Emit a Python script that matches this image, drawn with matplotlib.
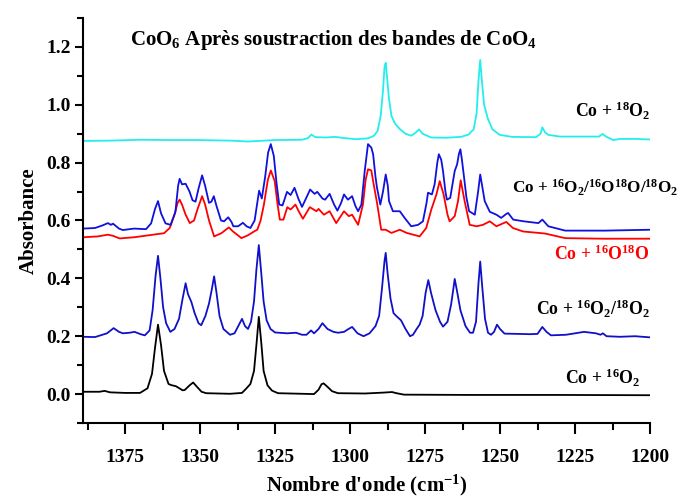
import matplotlib
matplotlib.use("Agg")
import matplotlib.pyplot as plt
from matplotlib.ticker import MultipleLocator

plt.rcParams["font.family"] = ["Liberation Serif", "DejaVu Serif"]
plt.rcParams["font.weight"] = "bold"
plt.rcParams["mathtext.fontset"] = "custom"
plt.rcParams["mathtext.rm"] = "Liberation Serif:bold"
plt.rcParams["mathtext.it"] = "Liberation Serif:bold"
plt.rcParams["mathtext.bf"] = "Liberation Serif:bold"

# Co + 16O2 (noir)
wn_16 = [1389, 1383.5, 1381.8, 1380, 1375, 1370, 1367.5, 1366, 1365, 1364, 1363, 1362,
         1360.5, 1359.6, 1358, 1355.8, 1355.1, 1353.5, 1352.3, 1351, 1349.5, 1347.9, 1340,
         1336, 1334.5, 1333.2, 1332, 1331.2, 1330.4, 1329.6, 1328.8, 1327.5, 1326, 1324,
         1312, 1310.5, 1309.5, 1308.8, 1307.5, 1306, 1304, 1295, 1289, 1286, 1284.5, 1282,
         1260, 1230, 1200]
abs_16 = [0.008, 0.008, 0.011, 0.006, 0.004, 0.004, 0.02, 0.07, 0.16, 0.24, 0.17, 0.08,
          0.035, 0.031, 0.027, 0.013, 0.014, 0.03, 0.04, 0.025, 0.008, 0.003, 0.001,
          0.004, 0.02, 0.035, 0.08, 0.17, 0.267, 0.18, 0.08, 0.03, 0.012, 0.003,
          0.0, 0.015, 0.034, 0.037, 0.025, 0.01, 0.003, 0.002, 0.005, 0.007, 0.003, -0.002,
          -0.003, -0.003, -0.004]

# Co + 16O2/18O2 (bleu, bas)
wn_1618 = [1389, 1385, 1381, 1378.8, 1377, 1375.7, 1373.5, 1371.8, 1369.8, 1368.4, 1366.8,
           1365.8, 1364.8, 1364, 1363.2, 1362.3, 1361.3, 1359.9, 1358.5, 1357, 1355.8, 1354.8,
           1354, 1352.9, 1351.8, 1350.5, 1349.6, 1348.2, 1347, 1346.1, 1345.3, 1344.5, 1343.5,
           1342.2, 1340, 1338.5, 1337, 1336, 1335, 1334, 1333, 1332, 1331.2, 1330.4, 1329.6,
           1328.8, 1327.8, 1326.5, 1325, 1321, 1318, 1316, 1314.5, 1313, 1312, 1310.5, 1309.2,
           1307.5, 1305.5, 1304, 1302, 1300.5, 1299.3, 1297.5, 1295.5, 1293.5, 1291.5, 1290.3,
           1289.3, 1288.5, 1288.1, 1287.5, 1286.5, 1285.5, 1284.6, 1283, 1281.5, 1280, 1279,
           1277.8, 1276.8, 1275.8, 1274.8, 1273.9, 1273, 1271.5, 1270, 1269, 1267.5, 1266.3,
           1265.6, 1265.1, 1264.4, 1263.2, 1261.5, 1260, 1259, 1258, 1257.2, 1256.6, 1256,
           1255, 1254, 1253, 1252, 1251, 1250, 1248.5, 1240, 1237.5, 1235.9, 1234.5, 1233,
           1228, 1222, 1218, 1216.5, 1215.7, 1214.5, 1210, 1205, 1200]
abs_1618 = [0.198, 0.197, 0.21, 0.228, 0.215, 0.21, 0.212, 0.215, 0.207, 0.203, 0.22,
            0.29, 0.41, 0.478, 0.40, 0.3, 0.245, 0.215, 0.225, 0.26, 0.33, 0.383,
            0.345, 0.319, 0.28, 0.245, 0.238, 0.27, 0.313, 0.36, 0.407, 0.35, 0.27,
            0.225, 0.205, 0.21, 0.24, 0.26, 0.235, 0.225, 0.25, 0.32, 0.43, 0.515, 0.42,
            0.32, 0.255, 0.225, 0.213, 0.21, 0.212, 0.205, 0.205, 0.22, 0.21, 0.225, 0.245,
            0.225, 0.215, 0.212, 0.215, 0.225, 0.232, 0.21, 0.2, 0.21, 0.235, 0.27,
            0.37, 0.46, 0.488, 0.42, 0.33, 0.28, 0.27, 0.255, 0.225, 0.2, 0.205,
            0.225, 0.24, 0.27, 0.35, 0.394, 0.35, 0.29, 0.25, 0.233, 0.25, 0.31,
            0.36, 0.398, 0.36, 0.29, 0.235, 0.212, 0.212, 0.25, 0.38, 0.458, 0.38,
            0.26, 0.212, 0.205, 0.215, 0.24, 0.225, 0.209, 0.207, 0.208, 0.232, 0.215, 0.203,
            0.205, 0.215, 0.21, 0.205, 0.21, 0.2, 0.198, 0.2, 0.196]

# Co + 16O18O (rouge)
wn_red = [1389, 1384, 1380.7, 1379, 1376.8, 1372, 1367, 1362, 1360.1, 1358.5, 1357.5, 1356.8,
          1356, 1354.8, 1353.4, 1352, 1350.8, 1349.3, 1348.3, 1347, 1345.3, 1342.9, 1340.4,
          1339, 1337.5, 1336.2, 1334, 1331.5, 1330.9, 1329.8, 1328.7, 1327.4, 1326.4, 1325.1,
          1324.2, 1323.4, 1322.2, 1320.9, 1319.8, 1318.2, 1317, 1315.7, 1313.4, 1311.2, 1310.5,
          1308.7, 1306.8, 1304.6, 1302, 1300.4, 1299.3, 1297.3, 1295.7, 1294.8, 1294, 1292.9,
          1292.3, 1291, 1289.6, 1288.1, 1286.2, 1283.4, 1281.1, 1276.8, 1274.6, 1272.9, 1271.2,
          1270.1, 1268.8, 1267.5, 1266.8, 1265.1, 1264, 1263.1, 1261.8, 1260.1, 1257.8, 1255.7,
          1253.4, 1251.2, 1247.9, 1245.7, 1242.3, 1235, 1228.3, 1215, 1200]
abs_red = [0.542, 0.545, 0.551, 0.547, 0.538, 0.542, 0.549, 0.556, 0.574, 0.62, 0.66, 0.672,
           0.655, 0.62, 0.591, 0.6, 0.64, 0.684, 0.655, 0.6, 0.545, 0.556, 0.576,
           0.562, 0.55, 0.539, 0.549, 0.565, 0.568, 0.6, 0.655, 0.74, 0.773, 0.736,
           0.66, 0.603, 0.603, 0.646, 0.638, 0.655, 0.63, 0.606, 0.646, 0.632, 0.64,
           0.62, 0.632, 0.591, 0.632, 0.615, 0.62, 0.585, 0.655, 0.74, 0.777, 0.773,
           0.736, 0.661, 0.568, 0.568, 0.557, 0.568, 0.557, 0.545, 0.574, 0.638, 0.69,
           0.736, 0.69, 0.62, 0.597, 0.615, 0.667, 0.739, 0.667, 0.585, 0.58, 0.585,
           0.597, 0.58, 0.595, 0.574, 0.562, 0.555, 0.539, 0.537, 0.537]

# Co + 16O2/16O18O/18O2 (bleu, haut)
wn_mix = [1389, 1385, 1382.5, 1380.7, 1379.7, 1379, 1377, 1375.7, 1372, 1368, 1366.3, 1365,
          1364, 1363, 1361.5, 1359.8, 1358.2, 1357.3, 1356.8, 1356, 1354.8, 1353.5, 1352.5,
          1351.5, 1350.5, 1349.3, 1348.3, 1347, 1346.2, 1345.4, 1344.5, 1343, 1342, 1340.6,
          1339.5, 1338.9, 1337.3, 1335.7, 1334.5, 1333.2, 1331.8, 1330.3, 1329.4, 1328.3,
          1327.3, 1326.4, 1325.4, 1324.5, 1323.6, 1322.5, 1321, 1319.8, 1318.5, 1317.2, 1316,
          1314.5, 1313.3, 1311.8, 1310.9, 1309.2, 1308.3, 1306.8, 1305.3, 1304.2, 1303, 1302,
          1300.7, 1299.3, 1298.2, 1297.3, 1296.2, 1295.1, 1294, 1292.9, 1292.3, 1291.5, 1291,
          1289.9, 1289, 1288.1, 1287.4, 1287, 1285.7, 1283.4, 1281.8, 1279.6, 1277.3, 1275.7,
          1274.5, 1274, 1272.7, 1271.8, 1270.9, 1270.4, 1269.6, 1269, 1268.2, 1267.7, 1266.6,
          1265.1, 1264.3, 1263.7, 1263.2, 1262.7, 1262.1, 1261.2, 1260.3, 1258.4, 1257.3,
          1256.6, 1255.8, 1255.1, 1253.4, 1251.2, 1249.6, 1248, 1247.3, 1245.6, 1242, 1237.2,
          1235.9, 1233.9, 1228.3, 1215, 1200]
abs_mix = [0.572, 0.574, 0.583, 0.591, 0.585, 0.589, 0.572, 0.567, 0.572, 0.57, 0.59, 0.64,
           0.667, 0.625, 0.59, 0.585, 0.63, 0.72, 0.744, 0.725, 0.727, 0.70, 0.67,
           0.665, 0.71, 0.756, 0.72, 0.661, 0.665, 0.684, 0.65, 0.6, 0.597, 0.611,
           0.595, 0.58, 0.58, 0.592, 0.58, 0.574, 0.6, 0.703, 0.676, 0.75,
           0.835, 0.864, 0.823, 0.73, 0.655, 0.652, 0.699, 0.688, 0.713, 0.675, 0.647,
           0.68, 0.707, 0.692, 0.699, 0.676, 0.672, 0.692, 0.655, 0.634, 0.66, 0.69,
           0.672, 0.684, 0.65, 0.632, 0.655, 0.771, 0.864, 0.852, 0.829, 0.75, 0.713,
           0.655, 0.7, 0.759, 0.72, 0.667, 0.632, 0.632, 0.609, 0.58, 0.585, 0.597,
           0.66, 0.696, 0.69, 0.725, 0.8, 0.829, 0.81, 0.771, 0.7, 0.672, 0.678,
           0.771, 0.794, 0.83, 0.846, 0.81, 0.759, 0.68, 0.632, 0.62, 0.7,
           0.759, 0.71, 0.667, 0.63, 0.62, 0.609, 0.622, 0.626, 0.603, 0.597, 0.591,
           0.603, 0.58, 0.565, 0.565, 0.568]

# Co + 18O2 (cyan)
wn_18 = [1389, 1380, 1370, 1360, 1350, 1340, 1334, 1325, 1316, 1314, 1312.9, 1311.5, 1308,
         1305, 1302, 1298, 1294, 1292, 1290.8, 1289.8, 1289, 1288.5, 1288.1, 1287.7, 1287,
         1286.2, 1285, 1283.4, 1281.5, 1279.6, 1278.2, 1277, 1275.8, 1273, 1268, 1263, 1260.5,
         1258.8, 1257.8, 1257.2, 1256.6, 1256.1, 1255.3, 1254, 1252.5, 1250.1, 1246, 1238,
         1236.5, 1235.9, 1235, 1233.9, 1230, 1220, 1217, 1215.8, 1214.5, 1212.2, 1210, 1205,
         1200]
abs_18 = [0.875, 0.876, 0.879, 0.878, 0.878, 0.876, 0.873, 0.878, 0.879, 0.885, 0.897, 0.888,
          0.887, 0.889, 0.885, 0.881, 0.884, 0.893, 0.91, 0.96, 1.05, 1.13, 1.145, 1.10, 1.02,
          0.962, 0.935, 0.916, 0.9, 0.893, 0.903, 0.915, 0.9, 0.887, 0.886, 0.889, 0.897,
          0.915, 0.97, 1.08, 1.155, 1.09, 1.0, 0.95, 0.915, 0.896, 0.889, 0.888,
          0.9, 0.922, 0.905, 0.896, 0.89, 0.89, 0.89, 0.899, 0.889, 0.878, 0.882, 0.882,
          0.88]

fig = plt.figure(figsize=(6.81, 4.98), dpi=100)
ax = fig.add_axes([0.1219, 0.1506, 0.8326, 0.8133])

lw = 1.3
ax.plot(wn_16, abs_16, color="black", lw=lw)
ax.plot(wn_1618, abs_1618, color="#1010c8", lw=lw)
ax.plot(wn_red, abs_red, color="#ff0000", lw=lw)
ax.plot(wn_mix, abs_mix, color="#1010e0", lw=lw)
ax.plot(wn_18, abs_18, color="#22eeee", lw=lw)

ax.set_xlim(1389, 1200)
ax.set_ylim(-0.1, 1.3)

for s in ["top", "right"]:
    ax.spines[s].set_visible(False)
for s in ["left", "bottom"]:
    ax.spines[s].set_linewidth(1.5)

ax.xaxis.set_major_locator(MultipleLocator(25))
ax.xaxis.set_minor_locator(MultipleLocator(12.5))
ax.yaxis.set_major_locator(MultipleLocator(0.2))
ax.yaxis.set_minor_locator(MultipleLocator(0.1))
ax.tick_params(axis="x", which="major", direction="out", length=8, width=1.5, pad=11, labelsize=14)
ax.tick_params(axis="x", which="minor", direction="out", length=5, width=1.5)
ax.tick_params(axis="y", which="major", direction="out", length=6, width=1.5, pad=3, labelsize=14)
ax.tick_params(axis="y", which="minor", direction="out", length=4, width=1.5)
ax.yaxis.set_major_formatter(plt.FuncFormatter(lambda v, p: f"{v:.1f}"))

ax.set_xlabel("Nombre d'onde (cm$^{-1}$)", fontsize=15, fontweight="bold", labelpad=4.5)
ax.set_ylabel("Absorbance", fontsize=15, fontweight="bold", labelpad=5)

ax.text(1373.3, 1.225, "CoO$_6$ Après soustraction des bandes de CoO$_4$",
        fontsize=15, fontweight="bold", ha="left", va="center")

lab_fs = 12.8
ax.text(1200, 0.98, "Co + $^{18}$O$_2$", fontsize=lab_fs, ha="right", va="center")
ax.text(1190.7, 0.713, "Co + $^{16}$O$_2$/$^{16}$O$^{18}$O/$^{18}$O$_2$", fontsize=12.3,
        ha="right", va="center", clip_on=False)
ax.text(1200, 0.482, "Co + $^{16}$O$^{18}$O", fontsize=lab_fs, ha="right", va="center",
        color="#ff0000")
ax.text(1200, 0.293, "Co + $^{16}$O$_2$/$^{18}$O$_2$", fontsize=lab_fs, ha="right", va="center")
ax.text(1203.3, 0.056, "Co + $^{16}$O$_2$", fontsize=lab_fs, ha="right", va="center")

fig.savefig("out.png", dpi=100)
